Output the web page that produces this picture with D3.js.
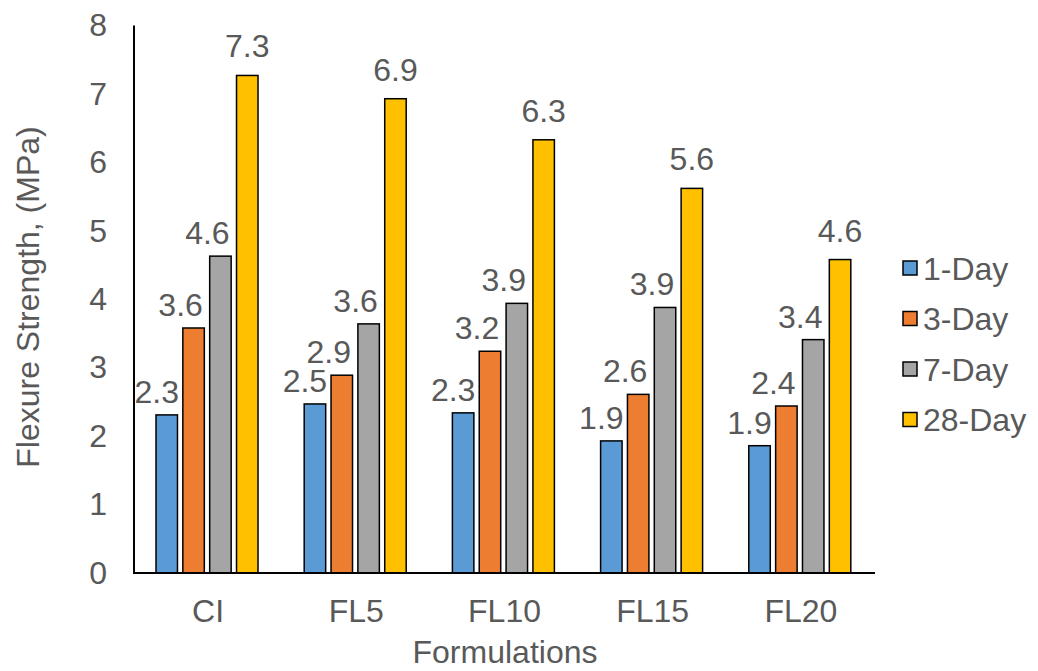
<!DOCTYPE html>
<html>
<head>
<meta charset="utf-8">
<script src="https://cdn.jsdelivr.net/npm/d3@7"></script>
<style>
  html, body { margin: 0; padding: 0; background: #fff; }
  svg { display: block; }
  text { font-family: "Liberation Sans", Arial, sans-serif; fill: #595959; }
</style>
</head>
<body>
<svg id="chart" width="1038" height="671"></svg>
<script>
// Flexural strength by formulation and curing age
const categories = ["CI", "FL5", "FL10", "FL15", "FL20"];
const series = ["1-Day", "3-Day", "7-Day", "28-Day"];
const day1  = [2.31, 2.47, 2.34, 1.93, 1.86];
const day3  = [3.58, 2.89, 3.24, 2.61, 2.44];
const day7  = [4.63, 3.64, 3.94, 3.88, 3.41];
const day28 = [7.27, 6.93, 6.33, 5.62, 4.58];
const yTicks = [0, 1, 2, 3, 4, 5, 6, 7, 8];
const colors = ["#5B9BD5", "#ED7D31", "#A5A5A5", "#FFC000"];

const values = [day1, day3, day7, day28];
const rows = categories.map((c, i) => ({
  cat: c,
  vals: series.map((s, j) => ({ key: s, value: values[j][i], idx: j }))
}));

const FS = "32px";
const svg = d3.select("#chart");
const plot = { left: 134, right: 875, top: 25.5, bottom: 573 };

const x0 = d3.scaleBand().domain(categories).range([plot.left, plot.right]).padding(0);
const x1 = d3.scaleBand().domain(series).range([22, 124]).paddingInner(0.2);
const y = d3.scaleLinear().domain([0, 8]).range([plot.bottom, plot.top]);
const color = d3.scaleOrdinal().domain(series).range(colors);

// y tick labels (no tick marks, no gridlines)
const yAxis = d3.axisLeft(y).tickValues(yTicks).tickSize(0).tickPadding(27).tickFormat(d3.format("d"));
const gy = svg.append("g").attr("transform", `translate(${plot.left},0)`).call(yAxis);
gy.select(".domain").remove();
gy.selectAll("text").style("font-size", FS).attr("fill", "#595959");

// category labels
const xAxis = d3.axisBottom(x0).tickSize(0).tickPadding(26);
const gx = svg.append("g").attr("transform", `translate(0,${plot.bottom})`).call(xAxis);
gx.select(".domain").remove();
gx.selectAll("text").style("font-size", FS).attr("fill", "#595959");

// bars
const groups = svg.append("g").selectAll("g").data(rows).join("g")
  .attr("transform", d => `translate(${x0(d.cat)},0)`);

groups.selectAll("rect").data(d => d.vals).join("rect")
  .attr("x", d => x1(d.key))
  .attr("y", d => y(d.value))
  .attr("width", x1.bandwidth())
  .attr("height", d => y(0) - y(d.value))
  .attr("fill", d => color(d.key))
  .attr("stroke", "#000")
  .attr("stroke-width", 1.5);

// value labels
const fmt = d3.format(".1f");
const labelShift = [-10, -13, -13, 0];
const labelLift = [12, 12, 12, 18];
groups.selectAll("text.val").data(d => d.vals).join("text")
  .attr("class", "val")
  .attr("x", d => x1(d.key) + x1.bandwidth() / 2 + labelShift[d.idx])
  .attr("y", d => y(d.value) - labelLift[d.idx])
  .attr("text-anchor", "middle")
  .style("font-size", FS)
  .text(d => fmt(d.value));

// axis lines
svg.append("line").attr("x1", plot.left).attr("x2", plot.left)
  .attr("y1", plot.top).attr("y2", plot.bottom)
  .attr("stroke", "#000").attr("stroke-width", 2);
svg.append("line").attr("x1", plot.left - 1).attr("x2", plot.right)
  .attr("y1", plot.bottom).attr("y2", plot.bottom)
  .attr("stroke", "#000").attr("stroke-width", 2);

// axis titles
svg.append("text")
  .attr("x", 505).attr("y", 663)
  .attr("text-anchor", "middle")
  .style("font-size", FS)
  .text("Formulations");
svg.append("text")
  .attr("transform", "translate(39,297) rotate(-90)")
  .attr("text-anchor", "middle")
  .style("font-size", FS)
  .text("Flexure Strength, (MPa)");

// legend
const legend = svg.append("g").selectAll("g").data(series).join("g")
  .attr("transform", (d, i) => `translate(903,${268 + i * 50.5})`);
legend.append("rect")
  .attr("x", 0).attr("y", -7).attr("width", 14).attr("height", 14)
  .attr("fill", d => color(d))
  .attr("stroke", "#000").attr("stroke-width", 1.5);
legend.append("text")
  .attr("x", 20).attr("y", 0).attr("dy", "0.36em")
  .style("font-size", FS)
  .text(d => d);
</script>
</body>
</html>
